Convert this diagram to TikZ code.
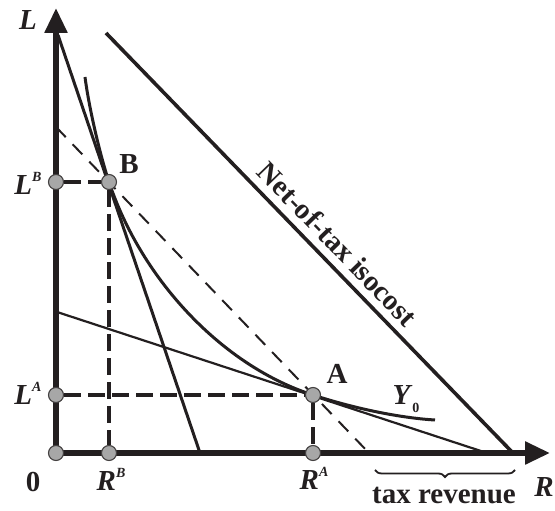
\documentclass[tikz,border=0pt]{standalone}
\usepackage{fontspec}
\setmainfont{Liberation Serif}
\usetikzlibrary{arrows.meta,decorations.pathreplacing}
\definecolor{ink}{HTML}{231F20}
\definecolor{dotgray}{HTML}{A7A7A7}

\begin{document}
\begin{tikzpicture}[
  x=1pt,y=1pt,
  axis/.style={draw=ink,line width=5.5pt,-{Triangle[length=25pt,width=22pt]}},
  dot/.style={circle,draw=ink!85,line width=1.1pt,fill=dotgray,minimum size=15pt,inner sep=0pt},
  proj/.style={draw=ink,line width=4pt,dash pattern=on 17pt off 7pt},
  isocost/.style={draw=ink,line width=3pt},
  lbl/.style={text=ink,inner sep=0pt,font=\fontsize{29}{31}\selectfont\bfseries},
]
\useasboundingbox (-56,-58) rectangle (499,453);
% axes
\coordinate (o) at (0,0);
\coordinate (ltip) at (0,445);
\coordinate (rtip) at (494,0);
\draw[axis] (o) -- (ltip);
\draw[axis] (o) -- (rtip);

% isocost lines and the isoquant
\coordinate (gross0) at (2,418);
\coordinate (gross1) at (144,0);
\coordinate (flat0) at (1,141);
\coordinate (flat1) at (431,0);
\coordinate (par0) at (0,326);
\coordinate (par1) at (313,0);
\coordinate (net0) at (50,420);
\coordinate (net1) at (457,0);
\draw[isocost] (gross0) -- (gross1);
\draw[draw=ink,line width=2.2pt] (flat0) -- (flat1);
\draw[draw=ink,line width=2pt,dash pattern=on 14pt off 10pt] (par0) -- (par1);
\draw[draw=ink,line width=3.6pt] (net0) -- (net1);
\draw[draw=ink,line width=3pt]
  (29,376) .. controls (33,345) and (44,298) .. (53,271)
  .. controls (86,172) and (167.6,86.6) .. (257,58)
  .. controls (300,44) and (345,35) .. (379,33);

% equilibria and their projections
\node[dot] (O) at (o) {};
\node[dot] (B) at (53,271) {};
\node[dot] (A) at (257,58) {};
\node[dot] (LB) at (0,271) {};
\node[dot] (LA) at (0,58) {};
\node[dot] (RB) at (53,0) {};
\node[dot] (RA) at (257,0) {};
\draw[proj] (LB) -- (B);
\draw[proj] (B) -- (RB);
\draw[proj] (LA) -- (A);
\draw[proj] (A) -- (RA);

% labels
\node[lbl] (lL) at (-28,433) {\textit{L}};
\node[lbl] (lR) at (488,-34) {\textit{R}};
\node[lbl] (l0) at (-23,-29) {0};
\node[lbl] (lLB) at (-28,270) {\textit{L}\raisebox{0.45em}{\fontsize{14}{14}\selectfont\textit{B}}};
\node[lbl] (lLA) at (-28,60) {\textit{L}\raisebox{0.45em}{\fontsize{14}{14}\selectfont\textit{A}}};
\node[lbl] (lRB) at (55,-26) {\textit{R}\raisebox{0.45em}{\fontsize{14}{14}\selectfont\textit{B}}};
\node[lbl] (lRA) at (258,-25) {\textit{R}\raisebox{0.45em}{\fontsize{14}{14}\selectfont\textit{A}}};
\node[lbl] (lB) at (73,289) {B};
\node[lbl] (lA) at (281,79) {A};
\node[lbl] (lY) at (350,54) {\textit{Y}\raisebox{-0.25em}{\fontsize{14}{14}\selectfont 0}};
\node[lbl,rotate=-45.9] (lnet) at (282,209) {Net-of-tax isocost};

% tax revenue
\coordinate (tax0) at (319,-17);
\coordinate (tax1) at (459,-17);
\draw[draw=ink,line width=1.8pt,decorate,decoration={brace,mirror,amplitude=7pt}] (tax0) -- (tax1);
\node[lbl] (ltax) at (388,-43) {tax revenue};
\end{tikzpicture}
\end{document}
